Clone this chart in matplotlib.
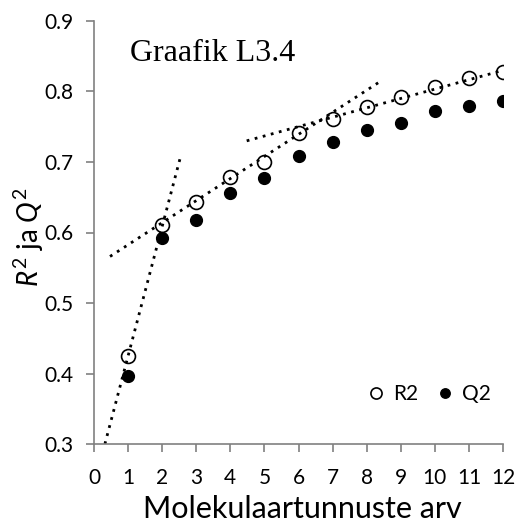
import numpy as np
import matplotlib.pyplot as plt

komponendid = [1, 2, 3, 4, 5, 6, 7, 8, 9, 10, 11, 12]
r2 = [0.425, 0.610, 0.643, 0.679, 0.700, 0.741, 0.761, 0.778, 0.792, 0.807, 0.819, 0.827]
q2 = [0.397, 0.592, 0.618, 0.656, 0.677, 0.709, 0.729, 0.745, 0.756, 0.773, 0.780, 0.786]

# trendijooned (algus x, lopp x, algus y, lopp y)
trend1_x = [0.32, 2.52]
trend1_y = [0.300, 0.704]
trend2_x = [0.47, 8.39]
trend2_y = [0.566, 0.814]
trend3_x = [4.48, 12.0]
trend3_y = [0.730, 0.830]

plt.rcParams['font.family'] = ['Lato', 'DejaVu Sans']
plt.rcParams['mathtext.fontset'] = 'custom'
plt.rcParams['mathtext.rm'] = 'Lato'
plt.rcParams['mathtext.it'] = 'Lato:italic'

fig = plt.figure(figsize=(5.19, 5.25), dpi=100)
ax = fig.add_axes([94 / 519, 1 - 444 / 525, (503 - 94) / 519, (444 - 21) / 525])

for tx, ty in [(trend1_x, trend1_y), (trend2_x, trend2_y), (trend3_x, trend3_y)]:
    ax.plot(tx, ty, color='black', linestyle=(0, (1, 2)), linewidth=2, zorder=2)

ax.plot(komponendid, r2, 'o', markersize=10, markerfacecolor='none',
        markeredgecolor='black', markeredgewidth=1.2, label='R2', zorder=3)
ax.plot(komponendid, q2, 'o', markersize=8.5, color='black', label='Q2', zorder=3)

ax.set_xlim(0, 12)
ax.set_ylim(0.3, 0.9)
ax.set_xticks(range(0, 13))
ax.set_yticks(np.arange(0.3, 0.91, 0.1))
ax.set_yticklabels(['0.3', '0.4', '0.5', '0.6', '0.7', '0.8', '0.9'])

for s in ['top', 'right']:
    ax.spines[s].set_visible(False)
for s in ['left', 'bottom']:
    ax.spines[s].set_color('#808080')
    ax.spines[s].set_linewidth(1.2)
ax.tick_params(axis='both', direction='out', length=6, width=1.2, color='#808080',
               labelsize=15)
ax.tick_params(axis='x', pad=11)
ax.tick_params(axis='y', pad=9)

ax.set_xlabel('Molekulaartunnuste arv', fontsize=22)
ax.xaxis.set_label_coords(0.51, -0.12)
ax.set_ylabel('$R^2$ ja $Q^2$', fontsize=20)
ax.yaxis.set_label_coords(-0.118, 0.49)

ax.text(1.05, 0.843, 'Graafik L3.4', fontsize=23, family=['Liberation Serif'])

ax.legend(loc='lower right', bbox_to_anchor=(0.99, 0.075), ncol=2, frameon=False,
          fontsize=15, markerscale=0.8, handlelength=1.0, handletextpad=0.3,
          columnspacing=0.8, borderaxespad=0)

fig.savefig('out.png', dpi=100)
